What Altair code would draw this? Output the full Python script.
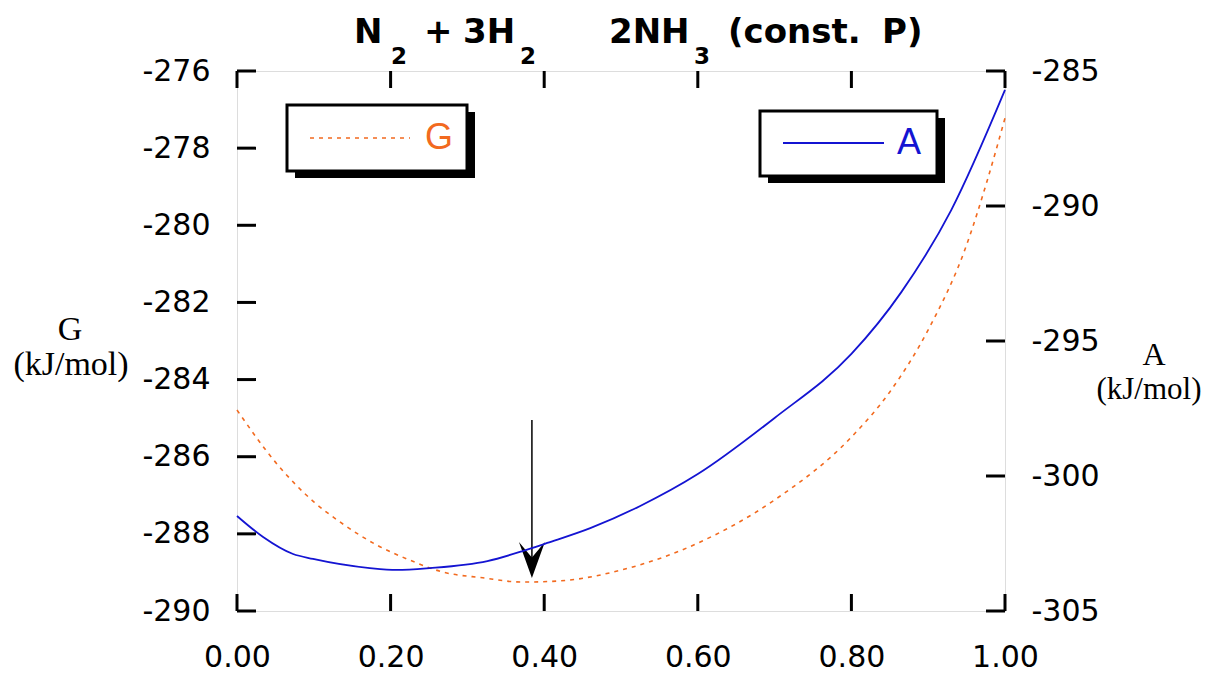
import altair as alt
import pandas as pd

# ---------------- data ----------------
x_G = [0.0, 0.05, 0.10, 0.134, 0.182, 0.225, 0.268, 0.32, 0.372, 0.42, 0.50,
       0.60, 0.70, 0.80, 0.85, 0.90, 0.95, 0.977, 1.0]
G_vals = [-284.79, -286.14, -287.17, -287.69, -288.29, -288.68, -288.99, -289.14,
          -289.25, -289.22, -288.94, -288.24, -287.12, -285.49, -284.32, -282.71, -280.51,
          -278.83, -277.22]

x_A = [0.0, 0.034, 0.073, 0.099, 0.173, 0.208, 0.251, 0.326, 0.372, 0.404, 0.46, 0.525,
       0.60, 0.70, 0.80, 0.865, 0.93, 1.0]
A_vals = [-301.48, -302.26, -302.89, -303.07, -303.41, -303.48, -303.41, -303.15, -302.78,
          -302.48, -301.93, -301.11, -299.93, -297.85, -295.48, -293.19, -290.15, -285.70]

G_ticks = [-290, -288, -286, -284, -282, -280, -278, -276]
A_ticks = [-305, -300, -295, -290, -285]
x_ticks = [0.0, 0.2, 0.4, 0.6, 0.8, 1.0]

arrow_x = [0.384]
arrow_top = [-285.05]
arrow_head = [-288.68]

title_parts = ["N", "2", "+", "3H", "2", "2NH", "3", "(const.", "P)"]

W, H = 768, 540
ORANGE = "#F26A1F"
BLUE = "#1414D2"
SANS = "Liberation Sans"
WIDE = "DejaVu Sans"
SERIF = "Liberation Serif"
LAB = 30

gdf = pd.DataFrame({"x": x_G, "G": G_vals})
adf = pd.DataFrame({"x": x_A, "A": A_vals})

xscale = alt.Scale(domain=[0, 1], nice=False, zero=False)
gscale = alt.Scale(domain=[-290, -276], nice=False, zero=False)
ascale = alt.Scale(domain=[-305, -285], nice=False, zero=False)

x_axis = alt.Axis(values=x_ticks, format=".2f", title=None, ticks=False, domain=False,
                  grid=False, labelFont=WIDE, labelFontSize=LAB, labelColor="black",
                  labelPadding=31, labelFlush=False)

g_line = alt.Chart(gdf).mark_line(color=ORANGE, strokeWidth=1.6, strokeDash=[4, 5],
                                  interpolate="monotone").encode(
    x=alt.X("x:Q", scale=xscale, axis=x_axis),
    y=alt.Y("G:Q", scale=gscale,
            axis=alt.Axis(values=G_ticks, orient="left", title=None, ticks=False, domain=False,
                          grid=False, labelExpr="'' + datum.value", labelFont=WIDE,
                          labelFontSize=LAB, labelColor="black", labelPadding=27)),
)

g_ticks_df = pd.DataFrame({"G": G_ticks})
g_tick_rules = alt.Chart(g_ticks_df).mark_rule(color="black", strokeWidth=3).encode(
    y=alt.Y("G:Q", scale=gscale), x=alt.value(0), x2=alt.value(19))

xt_df = pd.DataFrame({"x": x_ticks})
bottom_ticks = alt.Chart(xt_df).mark_rule(color="black", strokeWidth=3).encode(
    x=alt.X("x:Q", scale=xscale), y=alt.value(H - 17), y2=alt.value(H))
top_ticks = alt.Chart(xt_df).mark_rule(color="black", strokeWidth=3).encode(
    x=alt.X("x:Q", scale=xscale), y=alt.value(0), y2=alt.value(17))

arr_df = pd.DataFrame({"x": arrow_x, "G": arrow_top, "G2": arrow_head})
arrow_line = alt.Chart(arr_df).mark_rule(color="black", strokeWidth=1.5).encode(
    x=alt.X("x:Q", scale=xscale), y=alt.Y("G:Q", scale=gscale), y2="G2:Q")
arrow_tip = alt.Chart(arr_df).mark_point(
    shape="M0,1 L-0.72,-1 L0,-0.15 L0.72,-1 Z", size=1300, filled=True, color="black",
    opacity=1, strokeWidth=0).encode(
    x=alt.X("x:Q", scale=xscale), y=alt.Y("G2:Q", scale=gscale))

a_line = alt.Chart(adf).mark_line(color=BLUE, strokeWidth=1.8, interpolate="monotone").encode(
    x=alt.X("x:Q", scale=xscale),
    y=alt.Y("A:Q", scale=ascale,
            axis=alt.Axis(values=A_ticks, orient="right", title=None, ticks=False, domain=False,
                          grid=False, labelExpr="'' + datum.value", labelFont=WIDE,
                          labelFontSize=LAB, labelColor="black", labelPadding=26)),
)
a_ticks_df = pd.DataFrame({"A": A_ticks})
a_tick_rules = alt.Chart(a_ticks_df).mark_rule(color="black", strokeWidth=3).encode(
    y=alt.Y("A:Q", scale=ascale), x=alt.value(W - 19), x2=alt.value(W))

one = pd.DataFrame({"k": [0]})


def box(x1, y1, x2, y2, fill, stroke=None, sw=0):
    kw = dict(fill=fill)
    if stroke:
        kw.update(stroke=stroke, strokeWidth=sw)
    return alt.Chart(one).mark_rect(**kw).encode(
        x=alt.value(x1), x2=alt.value(x2), y=alt.value(y1), y2=alt.value(y2))


def text(s, x, y, size, color="black", font=SANS, weight="normal", align="left",
         baseline="alphabetic"):
    return alt.Chart(one).mark_text(text=s, font=font, fontSize=size, fontWeight=weight,
                                    color=color, align=align, baseline=baseline).encode(
        x=alt.value(x), y=alt.value(y))


def hline(x1, x2, y, color, sw, dash=None):
    kw = dict(color=color, strokeWidth=sw)
    if dash:
        kw["strokeDash"] = dash
    return alt.Chart(one).mark_rule(**kw).encode(
        x=alt.value(x1), x2=alt.value(x2), y=alt.value(y))


legend_layers = [
    box(58, 41, 238, 107, "black"),
    box(50, 34, 230, 100, "white", "black", 3),
    hline(73, 173, 67, ORANGE, 1.6, [4, 5]),
    text("G", 188, 67, 36, ORANGE, baseline="middle"),
    box(531, 47, 708, 112, "black"),
    box(523, 40, 700, 105, "white", "black", 3),
    hline(546, 647, 72, BLUE, 1.8),
    text("A", 660, 72, 36, BLUE, baseline="middle"),
]

tb, ts, TF, SF = -28, -7, 34, 23
title_layers = [
    text(title_parts[0], 117, tb, TF, font=WIDE, weight="bold"),
    text(title_parts[1], 154, ts, SF, font=WIDE, weight="bold"),
    text(title_parts[2], 187, tb, TF, font=WIDE, weight="bold"),
    text(title_parts[3], 226, tb, TF, font=WIDE, weight="bold"),
    text(title_parts[4], 283, ts, SF, font=WIDE, weight="bold"),
    text(title_parts[5], 372, tb, TF, font=WIDE, weight="bold"),
    text(title_parts[6], 457, ts, SF, font=WIDE, weight="bold"),
    text(title_parts[7], 491, tb, TF, font=WIDE, weight="bold"),
    text(title_parts[8], 645, tb, TF, font=WIDE, weight="bold"),
]

axis_title_layers = [
    text("G", -167, 259, 34, font=SERIF, align="center", baseline="middle"),
    text("(kJ/mol)", -166, 294, 34, font=SERIF, align="center", baseline="middle"),
    text("A", 917, 284, 32, font=SERIF, align="center", baseline="middle"),
    text("(kJ/mol)", 912, 319, 31, font=SERIF, align="center", baseline="middle"),
]

g_layer = alt.layer(g_line, g_tick_rules, bottom_ticks, top_ticks, arrow_line, arrow_tip,
                    *legend_layers, *title_layers, *axis_title_layers)
a_layer = alt.layer(a_line, a_tick_rules)

chart = alt.layer(g_layer, a_layer).resolve_scale(y="independent").properties(
    width=W, height=H,
    autosize=alt.AutoSizeParams(type="none"),
    padding={"left": 229, "top": 63, "right": 200, "bottom": 62},
).configure_view(stroke="black", strokeWidth=3).configure(background="white")

chart.save("out.html", embed_options={"renderer": "svg", "actions": False})
